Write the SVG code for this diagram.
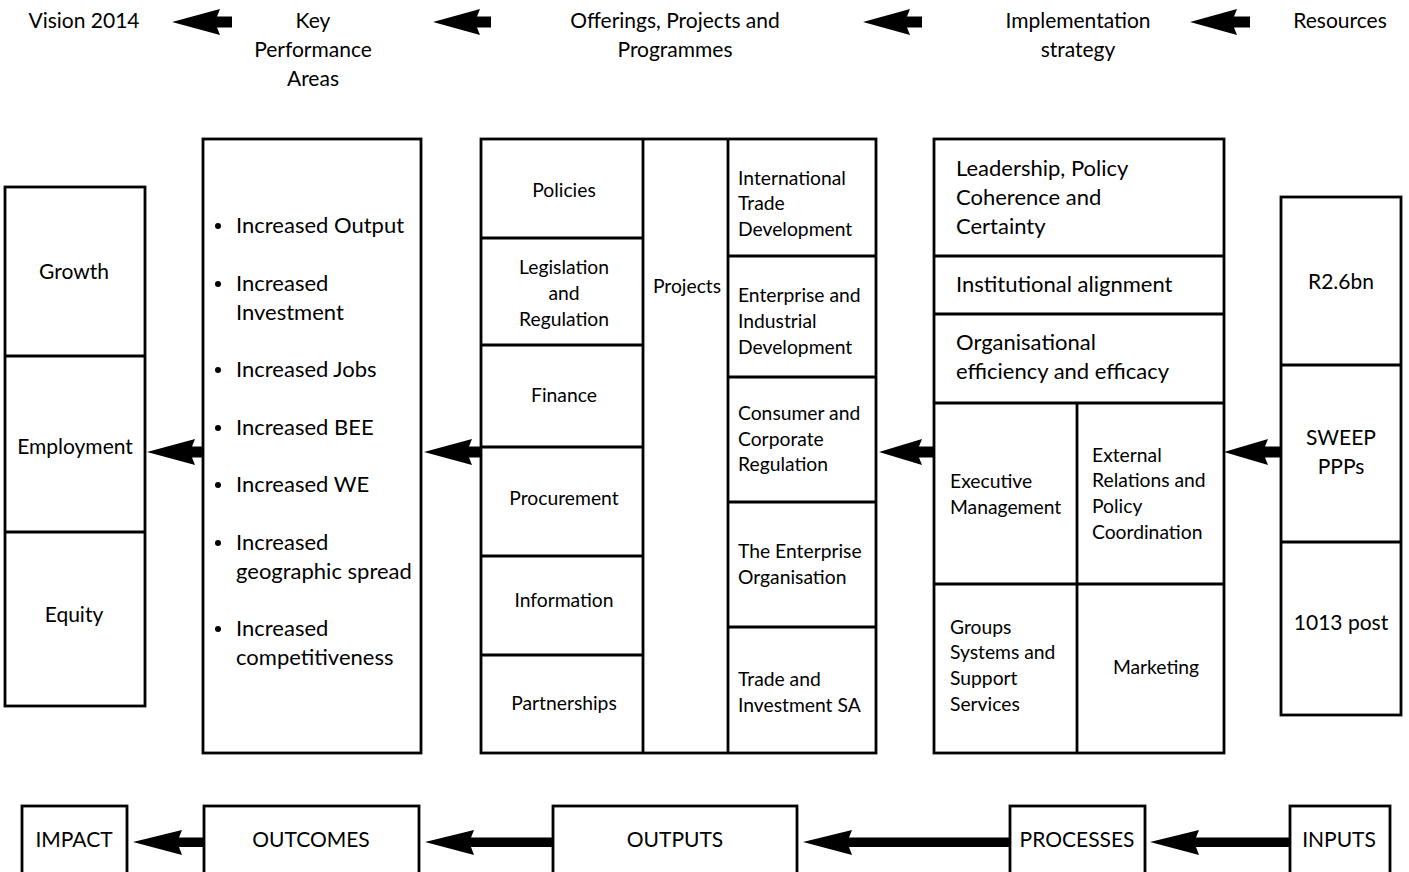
<svg xmlns="http://www.w3.org/2000/svg" width="1409" height="872" viewBox="0 0 1409 872">
<style>
text{font-family:Lato,"Open Sans","Liberation Sans",sans-serif;fill:#000}
.t21{font-size:21px}
.t22{font-size:22px}
.t19{font-size:19.3px}
.c{text-anchor:middle}
.box{fill:#fff;stroke:#000;stroke-width:2.8}
.ln{stroke:#000;stroke-width:2.8;fill:none}
.arr{fill:#000;stroke:none}
</style>
<rect width="1409" height="872" fill="#fff"/>

<g id="headers">
<text class="t21 c" x="84" y="28">Vision 2014</text>
<text class="t21 c" x="313" y="28">Key</text>
<text class="t21 c" x="313" y="57">Performance</text>
<text class="t21 c" x="313" y="86">Areas</text>
<text class="t21 c" x="675" y="28">Offerings, Projects and</text>
<text class="t21 c" x="675" y="57">Programmes</text>
<text class="t21 c" x="1078" y="28">Implementation</text>
<text class="t21 c" x="1078" y="57">strategy</text>
<text class="t21 c" x="1340" y="28">Resources</text>
</g>

<g id="vision">
<rect class="box" x="5" y="187" width="140" height="519"/>
<line class="ln" x1="5" y1="356" x2="145" y2="356"/>
<line class="ln" x1="5" y1="532" x2="145" y2="532"/>
<text class="t21 c" x="74" y="279">Growth</text>
<text class="t21 c" x="75" y="454">Employment</text>
<text class="t21 c" x="74" y="622">Equity</text>
</g>

<g id="kpa">
<rect class="box" x="203" y="139" width="218" height="614"/>
<g class="t22">
<circle cx="218" cy="226" r="3"/><text x="236" y="233">Increased Output</text>
<circle cx="218" cy="284" r="3"/><text x="236" y="291">Increased</text><text x="236" y="320">Investment</text>
<circle cx="218" cy="370" r="3"/><text x="236" y="377">Increased Jobs</text>
<circle cx="218" cy="428" r="3"/><text x="236" y="435">Increased BEE</text>
<circle cx="218" cy="485" r="3"/><text x="236" y="492">Increased WE</text>
<circle cx="218" cy="543" r="3"/><text x="236" y="550">Increased</text><text x="236" y="579">geographic spread</text>
<circle cx="218" cy="629" r="3"/><text x="236" y="636">Increased</text><text x="236" y="665">competitiveness</text>
</g>
</g>

<g id="offerings">
<rect class="box" x="481" y="139" width="395" height="614"/>
<line class="ln" x1="643" y1="139" x2="643" y2="753"/>
<line class="ln" x1="728" y1="139" x2="728" y2="753"/>
<line class="ln" x1="481" y1="238" x2="643" y2="238"/>
<line class="ln" x1="481" y1="345" x2="643" y2="345"/>
<line class="ln" x1="481" y1="447" x2="643" y2="447"/>
<line class="ln" x1="481" y1="556" x2="643" y2="556"/>
<line class="ln" x1="481" y1="655" x2="643" y2="655"/>
<line class="ln" x1="728" y1="256" x2="876" y2="256"/>
<line class="ln" x1="728" y1="377" x2="876" y2="377"/>
<line class="ln" x1="728" y1="502" x2="876" y2="502"/>
<line class="ln" x1="728" y1="627" x2="876" y2="627"/>
<g class="t19">
<text class="c" x="564" y="197">Policies</text>
<text class="c" x="564" y="274">Legislation</text>
<text class="c" x="564" y="300">and</text>
<text class="c" x="564" y="326">Regulation</text>
<text class="c" x="564" y="402">Finance</text>
<text class="c" x="564" y="505">Procurement</text>
<text class="c" x="564" y="607">Information</text>
<text class="c" x="564" y="710">Partnerships</text>
<text class="c" x="687" y="293">Projects</text>
<text x="738" y="185">International</text>
<text x="738" y="210">Trade</text>
<text x="738" y="236">Development</text>
<text x="738" y="302">Enterprise and</text>
<text x="738" y="328">Industrial</text>
<text x="738" y="354">Development</text>
<text x="738" y="420">Consumer and</text>
<text x="738" y="446">Corporate</text>
<text x="738" y="471">Regulation</text>
<text x="738" y="558">The Enterprise</text>
<text x="738" y="584">Organisation</text>
<text x="738" y="686">Trade and</text>
<text x="738" y="712">Investment SA</text>
</g>
</g>

<g id="implementation">
<rect class="box" x="934" y="139" width="290" height="614"/>
<line class="ln" x1="934" y1="256" x2="1224" y2="256"/>
<line class="ln" x1="934" y1="314" x2="1224" y2="314"/>
<line class="ln" x1="934" y1="403" x2="1224" y2="403"/>
<line class="ln" x1="934" y1="584" x2="1224" y2="584"/>
<line class="ln" x1="1077" y1="403" x2="1077" y2="753"/>
<g class="t22">
<text x="956" y="176">Leadership, Policy</text>
<text x="956" y="205">Coherence and</text>
<text x="956" y="234">Certainty</text>
<text x="956" y="292">Institutional alignment</text>
<text x="956" y="350">Organisational</text>
<text x="956" y="379">efficiency and efficacy</text>
</g>
<g class="t19">
<text x="950" y="488">Executive</text>
<text x="950" y="514">Management</text>
<text x="1092" y="462">External</text>
<text x="1092" y="487">Relations and</text>
<text x="1092" y="513">Policy</text>
<text x="1092" y="539">Coordination</text>
<text x="950" y="634">Groups</text>
<text x="950" y="659">Systems and</text>
<text x="950" y="685">Support</text>
<text x="950" y="711">Services</text>
<text class="c" x="1156" y="674">Marketing</text>
</g>
</g>

<g id="resources">
<rect class="box" x="1281" y="197" width="120" height="518"/>
<line class="ln" x1="1281" y1="365" x2="1401" y2="365"/>
<line class="ln" x1="1281" y1="542" x2="1401" y2="542"/>
<text class="t21 c" x="1341" y="289">R2.6bn</text>
<text class="t21 c" x="1341" y="445">SWEEP</text>
<text class="t21 c" x="1341" y="474">PPPs</text>
<text class="t21 c" x="1341" y="630">1013 post</text>
</g>

<g id="impact"><rect class="box" x="22" y="806" width="105" height="80"/><text class="t21 c" x="74" y="847">IMPACT</text></g>
<g id="outcomes"><rect class="box" x="204" y="806" width="215" height="80"/><text class="t21 c" x="311" y="847">OUTCOMES</text></g>
<g id="outputs"><rect class="box" x="553" y="806" width="244" height="80"/><text class="t21 c" x="675" y="847">OUTPUTS</text></g>
<g id="processes"><rect class="box" x="1010" y="806" width="135" height="80"/><text class="t21 c" x="1077" y="847">PROCESSES</text></g>
<g id="inputs"><rect class="box" x="1290" y="806" width="100" height="80"/><text class="t21 c" x="1339" y="847">INPUTS</text></g>

<g id="connectors" class="arr">
<path d="M172,22 L220,9 L217,16.5 L232,16.5 L232,27.5 L217,27.5 L220,35 Z"/>
<path d="M433,22 L480,9 L477,16.5 L491,16.5 L491,27.5 L477,27.5 L480,35 Z"/>
<path d="M863,22 L910,9 L907,16.5 L922,16.5 L922,27.5 L907,27.5 L910,35 Z"/>
<path d="M1190,22 L1237,9 L1234,16.5 L1250,16.5 L1250,27.5 L1234,27.5 L1237,35 Z"/>
<path d="M147,452 L195,439 L192,446.5 L203,446.5 L203,457.5 L192,457.5 L195,465 Z"/>
<path d="M424,452 L472,439 L469,446.5 L481,446.5 L481,457.5 L469,457.5 L472,465 Z"/>
<path d="M879,452 L922,439 L919,446.5 L934,446.5 L934,457.5 L919,457.5 L922,465 Z"/>
<path d="M1224,452 L1268,439 L1265,446.5 L1281,446.5 L1281,457.5 L1265,457.5 L1268,465 Z"/>
<path d="M133,842 L182,830 L179,837.5 L204,837.5 L204,847 L179,847 L182,855 Z"/>
<path d="M425,842 L474,830 L471,837.5 L553,837.5 L553,847 L471,847 L474,855 Z"/>
<path d="M803,842 L852,830 L849,837.5 L1010,837.5 L1010,847 L849,847 L852,855 Z"/>
<path d="M1150,842 L1199,830 L1196,837.5 L1290,837.5 L1290,847 L1196,847 L1199,855 Z"/>
</g>
</svg>
